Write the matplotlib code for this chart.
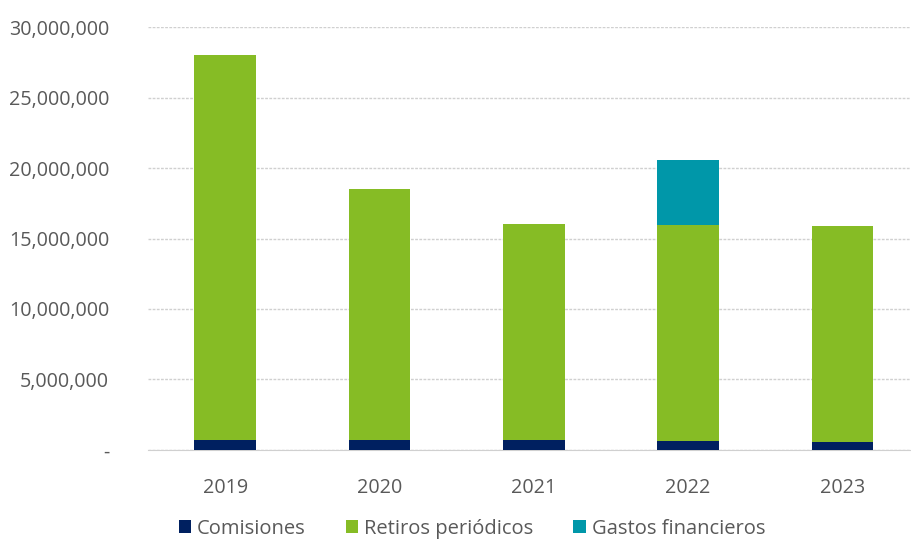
import matplotlib.pyplot as plt
from matplotlib.ticker import FuncFormatter

years = ['2019', '2020', '2021', '2022', '2023']
comisiones = [720000, 720000, 700000, 600000, 590000]
retiros = [27300000, 17800000, 15300000, 15350000, 15300000]
gastos = [0, 0, 0, 4650000, 0]

plt.rcParams['font.family'] = ['Open Sans', 'DejaVu Sans']

fig = plt.figure(figsize=(9.11, 5.44), dpi=100)
ax = fig.add_axes([0.1625, 0.173, 0.847, 0.777])

x = range(len(years))
w = 0.40
ax.bar(x, comisiones, w, color='#002060', label='Comisiones', zorder=3)
ax.bar(x, retiros, w, bottom=comisiones, color='#86bc25', label='Retiros periódicos', zorder=3)
base = [c + r for c, r in zip(comisiones, retiros)]
ax.bar(x, gastos, w, bottom=base, color='#0097a9', label='Gastos financieros', zorder=3)

ax.set_xlim(-0.5, len(years) - 0.5)
ax.set_ylim(0, 30000000)
ax.set_yticks(range(0, 30000001, 5000000))
ax.yaxis.set_major_formatter(FuncFormatter(lambda v, p: '-' if v == 0 else f'{int(v):,}'))
ax.set_xticks(list(x))
ax.set_xticklabels(years)
ax.grid(axis='y', color='#d0d0d0', linestyle=(0, (2, 1)), linewidth=1, zorder=0)
for s in ['top', 'right', 'left']:
    ax.spines[s].set_visible(False)
ax.spines['bottom'].set_color('#d0d0d0')
ax.tick_params(axis='both', length=0, labelsize=14.2, colors='#595959')
ax.tick_params(axis='x', pad=20)
ax.tick_params(axis='y', pad=28)

fig.legend(loc='center', bbox_to_anchor=(0.518, 0.028), ncol=3, frameon=False,
           fontsize=14.5, labelcolor='#595959', handlelength=0.6, handleheight=0.6,
           handletextpad=0.3, columnspacing=2.0)

fig.savefig('out.png', dpi=100)
